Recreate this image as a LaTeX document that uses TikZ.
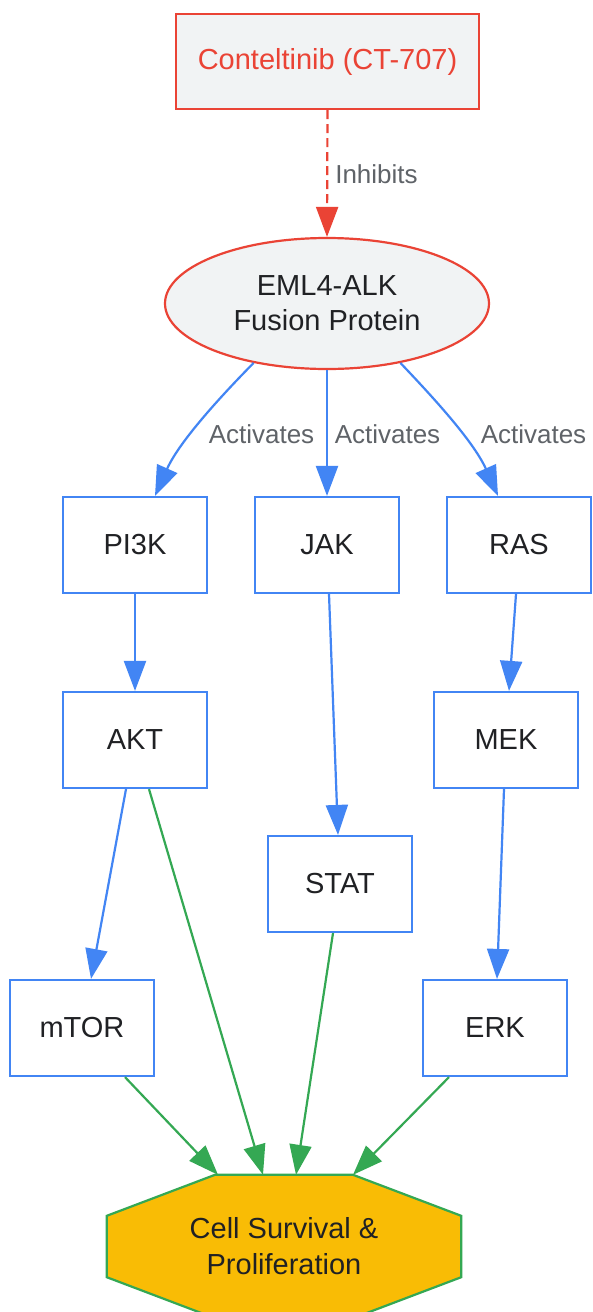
\documentclass[tikz,border=0pt]{standalone}
\usepackage{fontspec}
\setmainfont{Liberation Sans}
\usetikzlibrary{arrows.meta,shapes.geometric}
\definecolor{gblue}{HTML}{4285F4}
\definecolor{ggreen}{HTML}{34A853}
\definecolor{gred}{HTML}{EA4335}
\definecolor{gyellow}{HTML}{F9BC05}
\definecolor{gfill}{HTML}{F1F3F4}
\definecolor{gtext}{HTML}{202124}
\definecolor{glabel}{HTML}{5F6368}
\tikzset{
  protbox/.style={draw=gblue, line width=2.2pt, fill=white, minimum width=144pt, minimum height=96pt, inner sep=0pt, text=gtext, font=\fontsize{29}{35}\selectfont},
  blueedge/.style={draw=gblue, line width=2.2pt, -{Triangle[length=30pt,width=22pt]}},
  greenedge/.style={draw=ggreen, line width=2.2pt, -{Triangle[length=30pt,width=22pt]}},
  edgelabel/.style={text=glabel, font=\fontsize{26}{30}\selectfont, inner sep=0pt},
}
\begin{document}
\begin{tikzpicture}[x=1pt,y=-1pt]
\useasboundingbox[fill=white] (0,0) rectangle (592,1312);
% nodes
\node[draw=gred, line width=2.2pt, fill=gfill, minimum width=303pt, minimum height=95pt, inner sep=0pt, text=gred, font=\fontsize{29}{35}\selectfont] (drug) at (327.5,61.5) {Conteltinib (CT-707)};
\node[ellipse, draw=gred, line width=2.2pt, fill=gfill, minimum width=324pt, minimum height=131pt, inner sep=0pt, text=gtext, font=\fontsize{29}{35}\selectfont, align=center] (eml) at (327,303.5) {EML4-ALK\\Fusion Protein};
\node[protbox] (pi3k) at (135,545) {PI3K};
\node[protbox] (jak) at (327,545) {JAK};
\node[protbox] (ras) at (519,545) {RAS};
\node[protbox] (akt) at (135,740) {AKT};
\node[protbox] (mek) at (506,740) {MEK};
\node[protbox] (stat) at (340,884) {STAT};
\node[protbox] (mtor) at (82,1028) {mTOR};
\node[protbox] (erk) at (495,1028) {ERK};
\node[minimum width=354pt, minimum height=143pt, inner sep=0pt] (cell) at (284,1246.5) {};
\draw[fill=gyellow, draw=ggreen, line width=2.2pt]
  ([xshift=-69pt]cell.north) -- ([xshift=69pt]cell.north) -- ([yshift=-41pt]cell.north east)
  -- ([yshift=41pt]cell.south east) -- ([xshift=69pt]cell.south) -- ([xshift=-69pt]cell.south)
  -- ([yshift=41pt]cell.south west) -- ([yshift=-41pt]cell.north west) -- cycle;
\node[text=gtext, font=\fontsize{29}{36}\selectfont, align=center] (celltext) at (cell.center) {Cell Survival \&\\Proliferation};
% edges
\draw[draw=gred, line width=2.2pt, dash pattern=on 9pt off 5pt, -{Triangle[length=30pt,width=22pt]}] (drug.south) -- (eml.north);
\node[edgelabel] (linh) at (376.5,174) {Inhibits};
\draw[blueedge] (eml.south) -- (jak.north);
\draw[blueedge] (eml.-141) .. controls (225,392) and (180,440) .. ([xshift=20pt]pi3k.north);
\draw[blueedge] (eml.-39) .. controls (428,392) and (473,440) .. ([xshift=-21pt]ras.north);
\node[edgelabel] (la1) at (261.5,434) {Activates};
\node[edgelabel] (la2) at (387.5,434) {Activates};
\node[edgelabel] (la3) at (533.5,434) {Activates};
\draw[blueedge] (pi3k.south) -- (akt.north);
\draw[blueedge] ([xshift=2pt]jak.south) -- ([xshift=-2pt]stat.north);
\draw[blueedge] ([xshift=-3pt]ras.south) -- ([xshift=3pt]mek.north);
\draw[blueedge] ([xshift=-9pt]akt.south) -- ([xshift=9pt]mtor.north);
\draw[blueedge] ([xshift=-2pt]mek.south) -- ([xshift=2pt]erk.north);
\draw[greenedge] ([xshift=14pt]akt.south) -- ([xshift=-21pt]cell.north);
\draw[greenedge] ([xshift=-7pt]stat.south) -- ([xshift=12pt]cell.north);
\draw[greenedge] ([xshift=43pt]mtor.south) -- ([xshift=-66pt]cell.north);
\draw[greenedge] ([xshift=-46pt]erk.south) -- ([xshift=69pt]cell.north);
\end{tikzpicture}
\end{document}
